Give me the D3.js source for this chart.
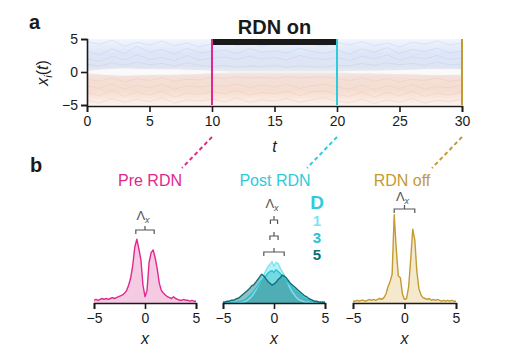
<!DOCTYPE html>
<html>
<head>
<meta charset="utf-8">
<script src="https://cdn.jsdelivr.net/npm/d3@7"></script>
<style>
  body { margin: 0; background: #fff; }
  svg { display: block; font-family: "Liberation Sans", Arial, sans-serif; }
</style>
</head>
<body>
<svg id="chart" width="518" height="362"></svg>
<script>
// ---- data ----
const tTicks = [0, 5, 10, 15, 20, 25, 30];
const yTicks = [-5, 0, 5];
const xTicks = [-5, 0, 5];
const phaseTimes = [10, 20, 30];
const phaseNames = ["Pre RDN", "Post RDN", "RDN off"];
const phaseColors = ["#e0288f", "#2dcbdc", "#c49a32"];

// time grid (one value per unit of t) for the trajectory band
const tGrid = d3.range(0, 31);
// half-width of the white gap round x = 0, read per t
const gapHalf = [0.2, 0.35, 0.5, 0.6, 0.5, 0.45, 0.4, 0.45, 0.35, 0.3, 0.2,
                 0.1, 0.06, 0.06, 0.06, 0.06, 0.08, 0.06, 0.06, 0.06, 0.06,
                 0.15, 0.2, 0.2, 0.25, 0.3, 0.35, 0.4, 0.45, 0.45, 0.4];
// a few sample trajectories x_i(t)
const traces = [
  [4.6,4.2,4.8,3.9,4.5,4.1,4.7,4.0,4.4,3.8,4.3,4.6,4.0,4.5,3.9,4.4,4.1,4.7,4.2,3.9,4.5,4.1,4.6,4.0,4.4,3.8,4.5,4.2,4.7,4.1,4.4],
  [3.2,2.6,3.5,2.8,3.9,3.0,3.4,2.7,3.6,2.9,3.1,3.3,2.8,3.5,3.0,3.2,2.9,3.6,3.1,2.8,3.3,2.7,3.5,3.0,3.7,2.8,3.4,3.1,3.6,2.9,3.2],
  [2.0,1.6,2.4,1.8,2.6,1.9,2.2,1.7,2.5,1.8,2.1,2.3,1.9,2.4,2.0,2.2,1.8,2.5,2.1,1.9,2.2,1.7,2.4,2.0,2.6,1.8,2.3,2.0,2.5,1.9,2.1],
  [1.2,0.9,1.4,1.0,1.5,1.1,1.3,0.9,1.4,1.0,0.8,1.0,0.7,0.9,0.8,1.0,0.7,0.9,0.8,0.7,1.0,0.9,1.3,1.0,1.4,1.1,1.3,1.0,1.5,1.1,1.2],
  [-1.1,-1.4,-0.9,-1.5,-1.0,-1.3,-0.9,-1.4,-1.1,-1.2,-0.8,-1.0,-0.7,-0.9,-0.8,-1.0,-0.7,-0.9,-0.8,-0.7,-1.0,-1.3,-0.9,-1.4,-1.0,-1.5,-1.1,-1.3,-0.9,-1.4,-1.2],
  [-2.1,-2.5,-1.8,-2.6,-2.0,-2.4,-1.9,-2.6,-2.1,-2.3,-2.0,-2.2,-1.8,-2.4,-2.0,-2.3,-1.9,-2.5,-2.1,-1.8,-2.3,-2.6,-2.0,-2.7,-2.1,-2.5,-1.9,-2.6,-2.2,-2.4,-2.0],
  [-3.1,-3.6,-2.8,-3.7,-3.0,-3.5,-2.9,-3.8,-3.2,-3.4,-3.0,-3.3,-2.8,-3.5,-3.1,-3.3,-2.9,-3.6,-3.0,-2.9,-3.4,-3.7,-3.0,-3.8,-3.1,-3.6,-2.9,-3.7,-3.2,-3.5,-3.0],
  [-4.3,-4.7,-4.0,-4.6,-4.1,-4.5,-3.9,-4.7,-4.2,-4.4,-4.1,-4.5,-3.9,-4.6,-4.2,-4.4,-4.0,-4.6,-4.2,-3.9,-4.4,-4.7,-4.1,-4.8,-4.2,-4.6,-4.0,-4.7,-4.3,-4.5,-4.1]
];

// x grid for the distributions, -5..5 step 0.2 (51 points)
const xGrid = d3.range(51).map(i => -5 + i * 0.2);
const preRdn = [0.03,0.04,0.03,0.04,0.05,0.04,0.05,0.04,0.05,0.06,0.05,0.06,0.07,0.08,0.09,0.11,0.14,0.2,0.28,0.42,0.62,0.71,0.6,0.48,0.2,0.07,0.14,0.45,0.56,0.59,0.5,0.38,0.22,0.14,0.11,0.09,0.07,0.06,0.05,0.07,0.05,0.04,0.03,0.03,0.04,0.03,0.03,0.02,0.03,0.02,0.02];
const postD1 = [0.01,0.01,0.01,0.01,0.01,0.01,0.01,0.01,0.01,0.01,0.01,0.02,0.03,0.05,0.07,0.1,0.14,0.18,0.22,0.27,0.31,0.36,0.4,0.43,0.46,0.41,0.45,0.44,0.39,0.35,0.31,0.26,0.21,0.16,0.12,0.09,0.06,0.04,0.03,0.02,0.01,0.01,0.01,0.01,0.01,0.01,0.01,0.01,0.01,0.01,0.01];
const postD3 = [0.01,0.01,0.01,0.01,0.01,0.01,0.01,0.01,0.02,0.02,0.03,0.04,0.06,0.08,0.1,0.13,0.16,0.19,0.22,0.25,0.28,0.3,0.33,0.35,0.36,0.34,0.37,0.35,0.33,0.3,0.28,0.25,0.22,0.2,0.17,0.15,0.13,0.11,0.09,0.07,0.05,0.04,0.03,0.02,0.02,0.01,0.01,0.01,0.01,0.01,0.01];
const postD5 = [0.01,0.01,0.02,0.02,0.03,0.03,0.04,0.05,0.06,0.08,0.1,0.12,0.14,0.16,0.19,0.2,0.23,0.26,0.29,0.32,0.3,0.27,0.24,0.22,0.2,0.21,0.23,0.26,0.28,0.31,0.3,0.28,0.25,0.22,0.2,0.18,0.16,0.14,0.12,0.1,0.08,0.07,0.05,0.04,0.03,0.02,0.02,0.01,0.01,0.01,0.01];
const rdnOff = [0.02,0.02,0.03,0.02,0.03,0.03,0.02,0.03,0.04,0.03,0.04,0.03,0.04,0.05,0.04,0.06,0.1,0.18,0.24,0.32,0.98,0.6,0.3,0.28,0.1,0.04,0.05,0.18,0.48,0.82,0.7,0.35,0.16,0.09,0.06,0.05,0.04,0.05,0.03,0.04,0.03,0.04,0.03,0.02,0.03,0.02,0.03,0.02,0.03,0.02,0.02];
const dLabels = ["1", "3", "5"];
const dColors = ["#7fe3ef", "#26c3d3", "#0f6e78"];
const dFills = ["rgba(160,236,244,0.75)", "rgba(60,196,208,0.55)", "rgba(40,130,138,0.5)"];
// Λx bracket widths (in x units) for each panel / D
const bracketPre = [-0.9, 0.9];
const bracketPost = [[-0.35, 0.35], [-0.4, 0.4], [-1.0, 1.0]];
const bracketOff = [-1.0, 1.0];

// ---- drawing ----
const svg = d3.select("#chart");
const ink = "#1a1a1a";

const tx = d3.scaleLinear().domain([0, 30]).range([87, 462]);
const ty = d3.scaleLinear().domain([-5, 5]).range([105, 39]);

const defs = svg.append("defs");
const grad = defs.append("linearGradient").attr("id", "band")
  .attr("x1", 0).attr("y1", 0).attr("x2", 0).attr("y2", 1);
[["0%", "#f1f5fd"], ["22%", "#dde6f8"], ["42%", "#dfe4f1"], ["50%", "#ecebeb"],
 ["58%", "#f3e0d8"], ["78%", "#f5ddd1"], ["100%", "#fcf2ed"]]
  .forEach(([o, c]) => grad.append("stop").attr("offset", o).attr("stop-color", c));

// band of trajectories
svg.append("rect")
  .attr("x", tx(0)).attr("y", ty(5))
  .attr("width", tx(30) - tx(0)).attr("height", ty(-5) - ty(5))
  .attr("fill", "url(#band)");

const line = d3.line().x((d, i) => tx(tGrid[i])).y(d => ty(d));
svg.append("g").selectAll("path").data(traces).join("path")
  .attr("d", line)
  .attr("fill", "none")
  .attr("stroke", d => d[0] > 0 ? "#b3c8f0" : "#eec0ad")
  .attr("stroke-width", 0.7)
  .attr("opacity", 0.5);

svg.append("path")
  .datum(gapHalf)
  .attr("d", d3.area().curve(d3.curveBasis)
    .x((d, i) => tx(tGrid[i])).y0(d => ty(-d)).y1(d => ty(d)))
  .attr("fill", "#fff").attr("opacity", 0.75);

// phase markers
svg.selectAll(".phase").data(phaseTimes).join("line")
  .attr("x1", d => tx(d)).attr("x2", d => tx(d))
  .attr("y1", ty(5)).attr("y2", ty(-5))
  .attr("stroke", (d, i) => phaseColors[i]).attr("stroke-width", 2);

// RDN on bar
svg.append("rect")
  .attr("x", tx(10) + 1).attr("y", ty(5))
  .attr("width", tx(20) - tx(10) - 2).attr("height", 6)
  .attr("fill", ink);
svg.append("text").attr("x", tx(15)).attr("y", 34)
  .attr("text-anchor", "middle").attr("font-weight", "bold").attr("font-size", 20)
  .attr("fill", ink).text("RDN on");

// top axes
const gx = svg.append("g").attr("transform", `translate(0,${ty(-5) + 1})`)
  .call(d3.axisBottom(tx).tickValues(tTicks).tickSize(6).tickPadding(4));
const gy = svg.append("g").attr("transform", `translate(${tx(0)},0)`)
  .call(d3.axisLeft(ty).tickValues(yTicks).tickFormat(d => d < 0 ? "\u2212" + (-d) : d).tickSize(6).tickPadding(3));
[gx, gy].forEach(g => {
  g.select(".domain").attr("stroke", ink).attr("stroke-width", 1.6);
  g.selectAll(".tick line").attr("stroke", ink).attr("stroke-width", 1.6);
  g.selectAll(".tick text").attr("font-size", 14).attr("fill", ink)
    .attr("font-family", "Liberation Sans, Arial, sans-serif");
});
svg.append("text").attr("x", tx(15)).attr("y", 152).attr("text-anchor", "middle")
  .attr("font-style", "italic").attr("font-size", 16).attr("fill", ink).text("t");
const yl = svg.append("text").attr("transform", `translate(48,73) rotate(-90)`)
  .attr("text-anchor", "middle").attr("font-size", 16).attr("fill", ink);
yl.append("tspan").attr("font-style", "italic").text("x");
yl.append("tspan").attr("font-style", "italic").attr("font-size", 11).attr("dy", 4).text("i");
yl.append("tspan").attr("dy", -4).text("(");
yl.append("tspan").attr("font-style", "italic").text("t");
yl.append("tspan").text(")");

// panel letters
svg.append("text").attr("x", 29).attr("y", 29).attr("font-weight", "bold")
  .attr("font-size", 20).attr("fill", ink).text("a");
svg.append("text").attr("x", 30).attr("y", 172).attr("font-weight", "bold")
  .attr("font-size", 20).attr("fill", ink).text("b");

// ---- bottom panels ----
const panelRanges = [[94, 196], [223, 325], [353, 456]];
const dy = d3.scaleLinear().domain([0, 1]).range([303, 213]);
const labelX = [150, 275, 402];

panelRanges.forEach((r, p) => {
  const px = d3.scaleLinear().domain([-5, 5]).range(r);
  const col = phaseColors[p];

  // dashed connector from the top axis
  svg.append("line")
    .attr("x1", tx(phaseTimes[p])).attr("y1", 137)
    .attr("x2", tx(phaseTimes[p]) - 30).attr("y2", 168)
    .attr("stroke", col).attr("stroke-width", 2).attr("stroke-dasharray", "4,3");
  svg.append("text").attr("x", labelX[p]).attr("y", 186).attr("text-anchor", "middle")
    .attr("font-size", 16).attr("fill", col).text(phaseNames[p]);

  const area = d3.area().x((d, i) => px(xGrid[i])).y0(dy(0)).y1(d => dy(d));
  const ln = d3.line().x((d, i) => px(xGrid[i])).y(d => dy(d));

  let curves, strokes, fills;
  if (p === 0) { curves = [preRdn]; strokes = [col]; fills = ["rgba(236,150,200,0.5)"]; }
  else if (p === 1) { curves = [postD1, postD3, postD5]; strokes = dColors; fills = dFills; }
  else { curves = [rdnOff]; strokes = [col]; fills = ["rgba(228,200,130,0.4)"]; }

  curves.forEach((c, k) => {
    svg.append("path").datum(c).attr("d", area).attr("fill", fills[k]);
  });
  curves.forEach((c, k) => {
    svg.append("path").datum(c).attr("d", ln).attr("fill", "none")
      .attr("stroke", strokes[k]).attr("stroke-width", 1.4).attr("stroke-linejoin", "round");
  });

  const ga = svg.append("g").attr("transform", `translate(0,${dy(0)})`)
    .call(d3.axisBottom(px).tickValues(xTicks).tickFormat(d => d < 0 ? "\u2212" + (-d) : d).tickSize(6).tickPadding(4));
  ga.select(".domain").attr("stroke", ink).attr("stroke-width", 1.6);
  ga.selectAll(".tick line").attr("stroke", ink).attr("stroke-width", 1.6);
  ga.selectAll(".tick text").attr("font-size", 14).attr("fill", ink)
    .attr("font-family", "Liberation Sans, Arial, sans-serif");
  svg.append("text").attr("x", px(0)).attr("y", 344).attr("text-anchor", "middle")
    .attr("font-style", "italic").attr("font-size", 16).attr("fill", ink).text("x");

  // Λx brackets
  const brk = p === 0 ? [bracketPre] : p === 1 ? bracketPost : [bracketOff];
  const brY = p === 0 ? [230] : p === 1 ? [220, 236, 252] : [209];
  brk.forEach((b, k) => {
    const x0 = px(b[0]), x1 = px(b[1]), y = brY[k], xm = (x0 + x1) / 2;
    svg.append("path")
      .attr("d", `M${x0},${y + 4}V${y}H${x1}V${y + 4}M${xm},${y}V${y - 4}`)
      .attr("fill", "none").attr("stroke", "#555").attr("stroke-width", 1.2);
  });
  const lamY = p === 0 ? 220 : p === 1 ? 208 : 201;
  const lam = svg.append("text").attr("x", px(0) - 2).attr("y", lamY).attr("text-anchor", "middle")
    .attr("font-size", 13).attr("fill", "#555");
  lam.append("tspan").text("\u039B");
  lam.append("tspan").attr("font-size", 9).attr("font-style", "italic").attr("dy", 3).text("x");
});

// D legend
svg.append("text").attr("x", 317).attr("y", 209).attr("text-anchor", "middle")
  .attr("font-weight", "bold").attr("font-size", 19).attr("fill", "#2dcbdc").text("D");
svg.selectAll(".dlab").data(dLabels).join("text")
  .attr("x", 317).attr("y", (d, i) => 226 + i * 17).attr("text-anchor", "middle")
  .attr("font-weight", "bold").attr("font-size", 15)
  .attr("fill", (d, i) => dColors[i]).text(d => d);
</script>
</body>
</html>
